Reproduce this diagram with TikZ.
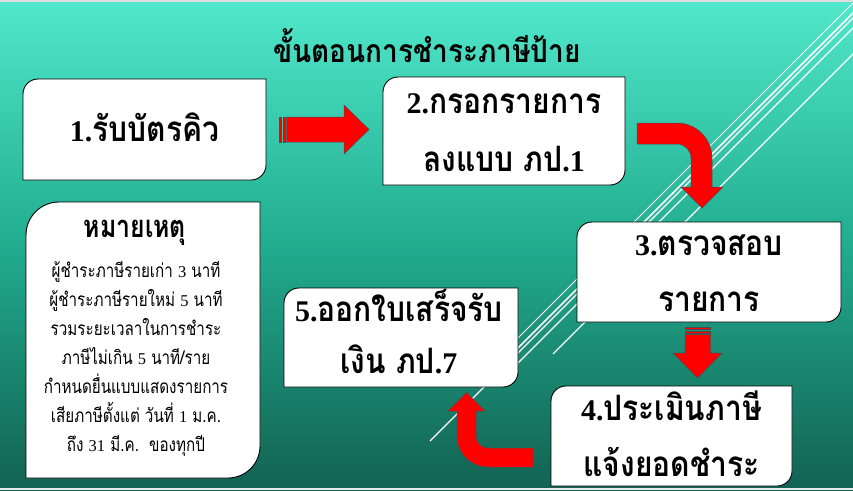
\documentclass[tikz,border=0pt]{standalone}
\usepackage{fontspec}
\newfontfamily\thaiB[Script=Thai,FakeStretch=0.857]{Loma}
\newfontfamily\thaiT[Script=Thai,FakeStretch=0.875]{Loma}
\newfontfamily\thaiH[Script=Thai,FakeStretch=0.8]{Loma}
\newfontfamily\thaiN[Script=Thai,FakeStretch=0.8]{Loma}
\newfontfamily\lat{Liberation Serif}
\newcommand\db[1]{{\lat\fontsize{30}{57}\selectfont #1}}
\newcommand\dn[1]{{\lat\fontsize{16.5}{29}\selectfont #1}}
\definecolor{bgtop}{RGB}{80,232,204}
\definecolor{bgmid}{RGB}{33,172,142}
\definecolor{bgbot}{RGB}{18,98,82}
\definecolor{arrowred}{RGB}{255,0,0}
\definecolor{stripgray}{RGB}{220,220,220}
\tikzset{
  boxline/.style={draw=black, line width=0.9pt, fill=white},
  blockarrow/.style={draw=black!70, line width=0.5pt, fill=arrowred},
  deco/.style={draw=white, line width=1.1pt},
  boxtext/.style={font=\thaiB\bfseries\fontsize{35}{57}\selectfont, text=black, inner sep=0pt,
    anchor=base, text height=26pt, text depth=2pt},
  notetext/.style={font=\thaiN\fontsize{19}{29}\selectfont, align=center, text=black, inner sep=0pt},
}
\newcommand\drawrbox[6]{%
  \path[boxline] ({#1+#5},#2) -- (#3,#2) -- (#3,{#4-#6})
    .. controls (#3,{#4-0.4477*#6}) and ({#3-0.4477*#6},#4) .. ({#3-#6},#4)
    -- (#1,#4) -- (#1,{#2+#5})
    .. controls (#1,{#2+0.4477*#5}) and ({#1+0.4477*#5},#2) .. ({#1+#5},#2) -- cycle;}
\begin{document}
\begin{tikzpicture}[x=1pt,y=-1pt]
\useasboundingbox (0,0) rectangle (853,490);
% background
\shade[top color=bgtop, bottom color=bgbot, middle color=bgmid] (0,0) rectangle (853,490);
\fill[stripgray] (0,0) rectangle (853,2);
\fill[stripgray!60] (0,488) rectangle (853,490);
% decorative diagonal lines
\begin{scope}
\clip (0,2) rectangle (853,488);
\draw[deco, line width=0.9pt] (856,0) -- (505,351);
\draw[deco, line width=1.5pt] (866,0) -- (505,361);
\draw[deco] (871,0) -- (430,441);
\draw[deco] (881,0) -- (510,371);
\draw[deco] (907,0) -- (553,354);
\end{scope}
% title
\node[font=\thaiT\bfseries\fontsize{32}{38}\selectfont] (title) at (427,46) {ขั้นตอนการชำระภาษีป้าย};
% boxes
\drawrbox{23}{79}{266}{180}{15}{15}
\drawrbox{383}{77}{625}{185}{15}{15}
\drawrbox{577}{222}{841}{322}{15}{15}
\drawrbox{551}{386}{792}{486}{15}{15}
\drawrbox{284}{288}{518}{387}{15}{15}
\drawrbox{26}{202}{260}{478}{33}{32}
% box texts
\node[boxtext] (b1) at (144.5,141) {\db{1.}รับบัตรคิว};
\node[boxtext] (b2a) at (504,113) {\db{2.}กรอกรายการ};
\node[boxtext] (b2b) at (504,171) {ลงแบบ ภป\db{.1}};
\node[boxtext] (b3a) at (709,255) {\db{3.}ตรวจสอบ};
\node[boxtext] (b3b) at (709,311) {รายการ};
\node[boxtext] (b4a) at (671.5,420) {\db{4.}ประเมินภาษี};
\node[boxtext] (b4b) at (671.5,476) {แจ้งยอดชำระ};
\node[boxtext] (b5a) at (399,321) {\db{5.}ออกใบเสร็จรับ};
\node[boxtext] (b5b) at (399,373) {เงิน ภป\db{.7}};
\node[font=\thaiH\bfseries\fontsize{31}{36}\selectfont] (nh) at (135,233) {หมายเหตุ};
\node[notetext] (nb) at (136,359) {ผู้ชำระภาษีรายเก่า \dn{3} นาที\\
ผู้ชำระภาษีรายใหม่ \dn{5} นาที\\
รวมระยะเวลาในการชำระ\\
ภาษีไม่เกิน \dn{5} นาที/ราย\\
กำหนดยื่นแบบแสดงรายการ\\
เสียภาษีตั้งแต่ วันที่ \dn{1} ม.ค.\\
ถึง \dn{31} มี.ค.~~ของทุกปี};
% arrow 1 -> 2 (striped)
\path[blockarrow] (279.5,117) rectangle (281.5,142);
\path[blockarrow] (283,117) rectangle (285,142);
\path[blockarrow] (286.5,117) -- (344,117) -- (344,105) -- (369,129.5) -- (344,154) -- (344,142) -- (286.5,142) -- cycle;
% curved arrow 2 -> 3
\path[blockarrow] (637,123) -- (677,123) .. controls (696.3,123) and (712,138.7) .. (712,158)
  -- (712,187) -- (723,187) -- (702,208) -- (681,187) -- (691,187) -- (691,158)
  .. controls (691,150.3) and (684.7,144) .. (677,144) -- (637,144) -- cycle;
% arrow 3 -> 4 (striped)
\path[blockarrow] (685,327) rectangle (710.5,329);
\path[blockarrow] (685,331) rectangle (710.5,333);
\path[blockarrow] (685,334.5) -- (710.5,334.5) -- (710.5,353) -- (722,353) -- (697.5,378) -- (673,353) -- (685,353) -- cycle;
% curved arrow 4 -> 5
\path[blockarrow] (533,448) -- (488,448) .. controls (481.4,448) and (476,442.6) .. (476,436)
  -- (476,411) -- (485,411) -- (466.5,392.5) -- (448,411) -- (457,411) -- (457,436)
  .. controls (457,453.1) and (470.9,467) .. (488,467) -- (533,467) -- cycle;
\end{tikzpicture}
\end{document}
